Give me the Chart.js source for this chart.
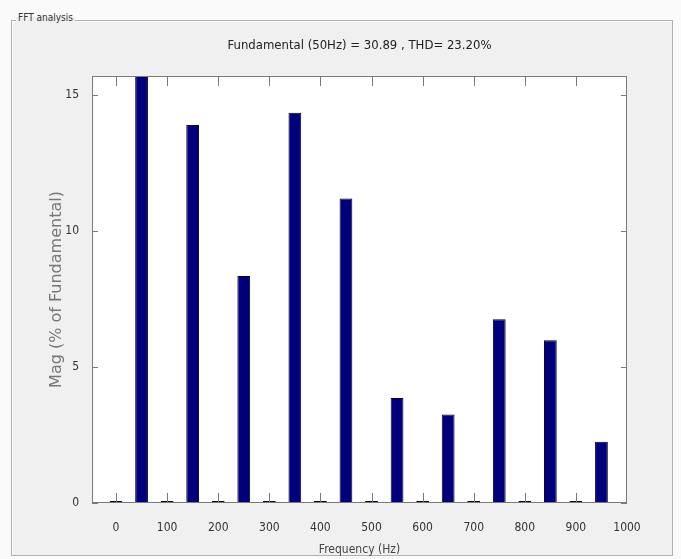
<!DOCTYPE html>
<html>
<head>
<meta charset="utf-8">
<script src="https://cdn.jsdelivr.net/npm/chart.js@4.4.0/dist/chart.umd.min.js"></script>
<style>
  html, body { margin: 0; padding: 0; background: #fafafa; }
  #wrap { position: relative; width: 681px; height: 559px; overflow: hidden; }
  #panel { position: absolute; left: 11px; top: 20px; width: 660px; height: 534px;
           border: 1px solid #b0b0b0; background: #f0f0f0; box-shadow: inset 1px 1px 0 #fff; }
  #panelLabel { position: absolute; left: 16px; top: 12px; padding: 0 2px;
                background: linear-gradient(#fafafa 50%, #f0f0f0 50%);
                font: 10px 'DejaVu Sans Condensed', sans-serif; color: #333; }
  canvas { position: absolute; left: 0; top: 0; }
</style>
</head>
<body>
<div id="wrap">
  <div id="panel"></div>
  <div id="panelLabel">FFT analysis</div>
  <canvas id="fftChart" width="681" height="559"></canvas>
</div>
<script>
// harmonic frequencies (Hz) and magnitudes (% of fundamental)
const freqs = [0, 50, 100, 150, 200, 250, 300, 350, 400, 450, 500, 550, 600, 650, 700, 750, 800, 850, 900, 950];
const mags = [0.07, 100, 0.07, 13.9, 0.07, 8.35, 0.07, 14.35, 0.07, 11.2, 0.07, 3.86, 0.07, 3.25, 0.07, 6.76, 0.07, 5.98, 0.07, 2.25];
const xTicks = [0, 100, 200, 300, 400, 500, 600, 700, 800, 900, 1000];
const yTicks = [0, 5, 10, 15];

const narrow = "'Liberation Sans Narrow', 'DejaVu Sans Condensed', sans-serif";

// white plot area, matlab style box and inward ticks
const boxPlugin = {
    id: 'box',
    beforeDraw(chart) {
        const { ctx, chartArea: a } = chart;
        ctx.save();
        ctx.fillStyle = '#ffffff';
        ctx.fillRect(a.left, a.top, a.right - a.left, a.bottom - a.top);
        ctx.restore();
    },
    afterDatasetsDraw(chart) {
        const { ctx, chartArea: a, scales } = chart;
        ctx.save();
        ctx.strokeStyle = '#7a7a7a';
        ctx.lineWidth = 1;
        ctx.beginPath();
        scales.x.ticks.forEach(t => {
            const px = Math.min(Math.round(scales.x.getPixelForValue(t.value)), a.right - 1) + 0.5;
            ctx.moveTo(px, a.bottom); ctx.lineTo(px, a.bottom - 10);
            ctx.moveTo(px, a.top); ctx.lineTo(px, a.top + 10);
        });
        scales.y.ticks.forEach(t => {
            const py = Math.round(scales.y.getPixelForValue(t.value)) + 0.5;
            ctx.moveTo(a.left, py); ctx.lineTo(a.left + 6, py);
            ctx.moveTo(a.right, py); ctx.lineTo(a.right - 6, py);
        });
        ctx.stroke();
        ctx.strokeRect(a.left + 0.5, a.top + 0.5, a.right - a.left - 1, a.bottom - a.top - 1);
        ctx.restore();
    }
};

new Chart("fftChart", {
    type: 'bar',
    data: {
        datasets: [{
            data: freqs.map((f, i) => ({ x: f, y: mags[i] })),
            backgroundColor: '#00007c',
            borderColor: '#00002a',
            borderWidth: 1,
            barPercentage: 0.5,
            categoryPercentage: 1.0
        }]
    },
    options: {
        responsive: false,
        animation: false,
        layout: { padding: { left: 0, right: 54, top: 0, bottom: 0 } },
        plugins: {
            legend: { display: false },
            tooltip: { enabled: false }
        },
        scales: {
            x: {
                type: 'linear',
                min: -47,
                max: 1000,
                offset: false,
                grid: { display: false, offset: false },
                border: { display: false },
                afterFit(s) { s.height = 56; },
                afterBuildTicks(s) { s.ticks = xTicks.map(v => ({ value: v })); },
                ticks: { color: '#333', padding: 10, font: { family: narrow, size: 12 },
                         callback: v => String(v) },
                title: {
                    display: true,
                    text: 'Frequency (Hz)',
                    color: '#444',
                    font: { family: narrow, size: 12 },
                    padding: { top: 0, bottom: 2 }
                }
            },
            // top axis only carries the plot title, centred over the axes box
            xTop: {
                type: 'linear',
                position: 'top',
                min: -47,
                max: 1000,
                grid: { display: false },
                border: { display: false },
                ticks: { display: false },
                afterFit(s) { s.height = 76; },
                title: {
                    display: true,
                    text: 'Fundamental (50Hz) = 30.89 , THD= 23.20%',
                    color: '#222',
                    font: { family: narrow, size: 13 },
                    padding: { top: 38, bottom: 0 }
                }
            },
            y: {
                min: 0,
                max: 15.7,
                grid: { display: false },
                border: { display: false },
                afterFit(s) { s.width = 92; },
                afterBuildTicks(s) { s.ticks = yTicks.map(v => ({ value: v })); },
                ticks: { color: '#333', padding: 5, font: { family: narrow, size: 12 },
                         callback: v => String(v) },
                title: {
                    display: true,
                    text: 'Mag (% of Fundamental)',
                    color: '#777',
                    font: { family: "'DejaVu Sans', sans-serif", size: 16 },
                    padding: { top: 47, bottom: 0 }
                }
            }
        }
    },
    plugins: [boxPlugin]
});
</script>
</body>
</html>
